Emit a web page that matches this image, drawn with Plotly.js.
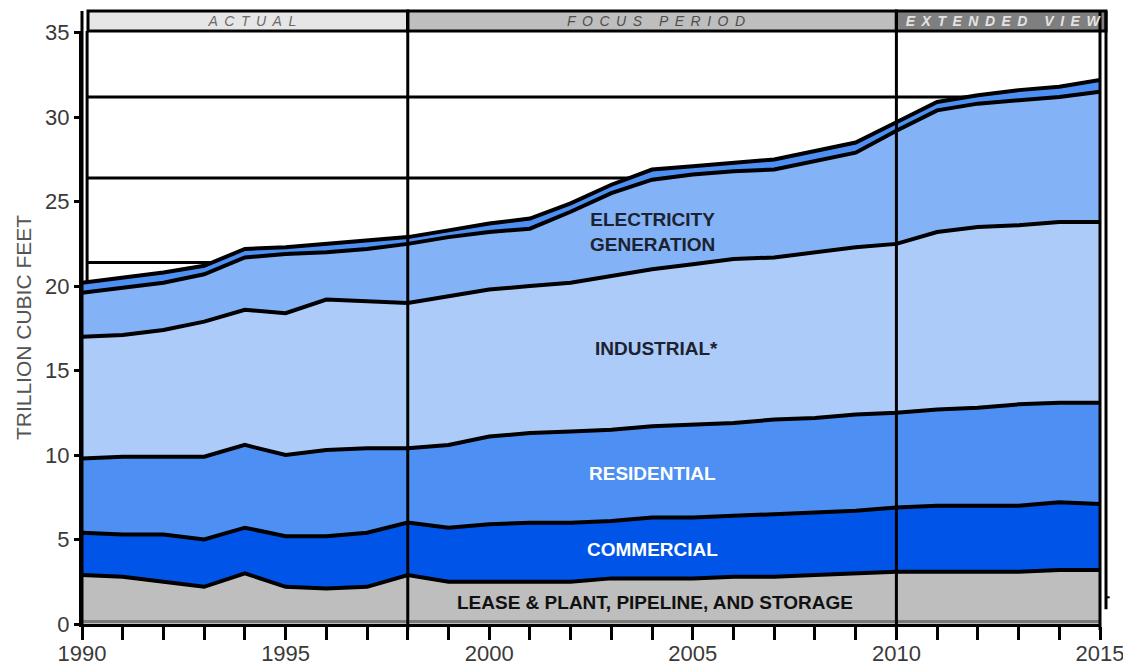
<!DOCTYPE html>
<html>
<head>
<meta charset="utf-8">
<script src="https://cdn.plot.ly/plotly-3.0.1.min.js"></script>
<style>
html, body { margin: 0; padding: 0; background: #ffffff; }
#chart { width: 1123px; height: 665px; }
.annotation[data-index="5"] .annotation-text,
.annotation[data-index="6"] .annotation-text,
.annotation[data-index="7"] .annotation-text { letter-spacing: 6.5px; }
</style>
</head>
<body>
<div id="chart"></div>
<script>
// Years
var years = [1990,1991,1992,1993,1994,1995,1996,1997,1998,1999,2000,2001,2002,
             2003,2004,2005,2006,2007,2008,2009,2010,2011,2012,2013,2014,2015];

// Sector consumption, trillion cubic feet (stacked bottom to top)
var leasePlantPipeline = [2.9,2.8,2.5,2.2,3.0,2.2,2.1,2.2,2.9,2.5,2.5,2.5,2.5,
                          2.7,2.7,2.7,2.8,2.8,2.9,3.0,3.1,3.1,3.1,3.1,3.2,3.2];
var commercial  = [2.5,2.5,2.8,2.8,2.7,3.0,3.1,3.2,3.1,3.2,3.4,3.5,3.5,
                   3.4,3.6,3.6,3.6,3.7,3.7,3.7,3.8,3.9,3.9,3.9,4.0,3.9];
var residential = [4.4,4.6,4.6,4.9,4.9,4.8,5.1,5.0,4.4,4.9,5.2,5.3,5.4,
                   5.4,5.4,5.5,5.5,5.6,5.6,5.7,5.6,5.7,5.8,6.0,5.9,6.0];
var industrial  = [7.2,7.2,7.5,8.0,8.0,8.4,8.9,8.7,8.6,8.8,8.7,8.7,8.8,
                   9.1,9.3,9.5,9.7,9.6,9.8,9.9,10.0,10.5,10.7,10.6,10.7,10.7];
var electricity = [2.6,2.8,2.8,2.8,3.1,3.5,2.8,3.1,3.5,3.5,3.4,3.4,4.2,
                   4.9,5.3,5.3,5.2,5.2,5.4,5.6,6.7,7.2,7.3,7.4,7.4,7.7];
var other       = [0.6,0.6,0.6,0.5,0.5,0.4,0.5,0.5,0.4,0.4,0.5,0.6,0.5,
                   0.5,0.6,0.5,0.5,0.6,0.6,0.6,0.5,0.5,0.5,0.6,0.6,0.7];

var seriesNames = ['Lease & Plant, Pipeline, and Storage','Commercial','Residential',
                   'Industrial','Electricity Generation','Other'];
var seriesData = [leasePlantPipeline, commercial, residential, industrial, electricity, other];
var fillColors = ['#bebebe','#0055e8','#4d8ff2','#adcbf9','#83b2f6','#4d8ff2'];

// Tick labels
var xTickVals = [1990,1995,2000,2005,2010,2015];
var xTickText = ['1990','1995','2000','2005','2010','2015'];
var yTickVals = [0,5,10,15,20,25,30,35];

// Period bands
var periodLabels = ['ACTUAL','FOCUS PERIOD','EXTENDED VIEW'];

var traces = seriesData.map(function(vals, i) {
  return {
    x: years, y: vals, name: seriesNames[i],
    type: 'scatter', mode: 'lines', stackgroup: 'gas',
    line: {color: '#000000', width: 4, shape: 'linear'},
    fillcolor: fillColors[i],
    hoverinfo: 'skip'
  };
});

var FONT = 'Liberation Sans, Arial, sans-serif';
var hdrTop = 1.0337;

var shapes = [
  // background frame lines (behind data)
  {type:'line', xref:'paper', yref:'y', x0:0.005, x1:1, y0:21.4, y1:21.4, layer:'below', line:{color:'#000', width:3}},
  {type:'line', xref:'paper', yref:'y', x0:0.005, x1:1, y0:26.4, y1:26.4, layer:'below', line:{color:'#000', width:3}},
  {type:'line', xref:'paper', yref:'y', x0:0.005, x1:1, y0:31.2, y1:31.2, layer:'below', line:{color:'#000', width:3}},
  {type:'line', xref:'paper', yref:'paper', x0:0.005, x1:0.005, y0:0, y1:1, layer:'below', line:{color:'#000', width:3}},
  // dark base line of the gray area
  {type:'line', xref:'paper', yref:'y', x0:0, x1:1, y0:0.15, y1:0.15, layer:'above', line:{color:'#7a7a7a', width:3}},
  // header bands
  {type:'rect', xref:'paper', yref:'paper', x0:0.0059, x1:0.32, y0:1, y1:hdrTop, fillcolor:'#e6e6e6', line:{color:'#000', width:3}},
  {type:'rect', xref:'paper', yref:'paper', x0:0.32, x1:0.8, y0:1, y1:hdrTop, fillcolor:'#bebebe', line:{color:'#000', width:3}},
  {type:'rect', xref:'paper', yref:'paper', x0:0.8, x1:1.0059, y0:1, y1:hdrTop, fillcolor:'#7f7f7f', line:{color:'#000', width:3}},
  // period dividers (above data)
  {type:'line', xref:'paper', yref:'paper', x0:0.32, x1:0.32, y0:-0.01, y1:hdrTop, line:{color:'#000', width:3}},
  {type:'line', xref:'paper', yref:'paper', x0:0.8, x1:0.8, y0:-0.01, y1:hdrTop, line:{color:'#000', width:3}},
  {type:'line', xref:'paper', yref:'paper', x0:1, x1:1, y0:-0.01, y1:hdrTop, line:{color:'#000', width:3}},
  {type:'line', xref:'paper', yref:'paper', x0:1.0059, x1:1.0059, y0:0.025, y1:hdrTop, line:{color:'#000', width:3}},
  {type:'line', xref:'paper', yref:'paper', x0:1.0059, x1:1.0095, y0:0.045, y1:0.045, line:{color:'#000', width:2}},
  // left axis extension into header
  {type:'line', xref:'paper', yref:'paper', x0:0, x1:0, y0:0, y1:hdrTop, line:{color:'#000', width:3}}
];

var annotations = [
  {x:2004.0, y:23.2, xref:'x', yref:'y', text:'ELECTRICITY<br>GENERATION', showarrow:false,
   font:{family:FONT, size:19, weight:'bold', color:'#1c2230'}},
  {x:2004.1, y:16.3, xref:'x', yref:'y', text:'INDUSTRIAL*', showarrow:false,
   font:{family:FONT, size:19, weight:'bold', color:'#1c2230'}},
  {x:2004.0, y:8.9, xref:'x', yref:'y', text:'RESIDENTIAL', showarrow:false,
   font:{family:FONT, size:19, weight:'bold', color:'#ffffff'}},
  {x:2004.0, y:4.4, xref:'x', yref:'y', text:'COMMERCIAL', showarrow:false,
   font:{family:FONT, size:19, weight:'bold', color:'#ffffff'}},
  {x:2004.07, y:1.3, xref:'x', yref:'y', text:'LEASE & PLANT, PIPELINE, AND STORAGE', showarrow:false,
   font:{family:FONT, size:19, weight:'bold', color:'#111111'}},
  {x:0.167, y:1.017, xref:'paper', yref:'paper', xanchor:'center', yanchor:'middle', xshift:3,
   text:periodLabels[0], showarrow:false,
   font:{family:FONT, size:14, style:'italic', color:'#6a6a6a'}},
  {x:0.564, y:1.017, xref:'paper', yref:'paper', xanchor:'center', yanchor:'middle', xshift:3,
   text:periodLabels[1], showarrow:false,
   font:{family:FONT, size:14, style:'italic', color:'#4e4e4e'}},
  {x:0.906, y:1.017, xref:'paper', yref:'paper', xanchor:'center', yanchor:'middle', xshift:3,
   text:periodLabels[2], showarrow:false,
   font:{family:FONT, size:14, style:'italic', weight:'bold', color:'#e4e4e4'}}
];

var layout = {
  width: 1123, height: 665,
  margin: {l:82, r:23, t:31, b:41, pad:0},
  paper_bgcolor: '#ffffff', plot_bgcolor: '#ffffff',
  showlegend: false, hovermode: false,
  font: {family: FONT},
  xaxis: {
    range: [1990, 2015], tickvals: xTickVals, ticktext: xTickText,
    showgrid: false, zeroline: false,
    showline: true, linecolor: '#000', linewidth: 3,
    ticks: 'outside', ticklen: 13, tickwidth: 3, tickcolor: '#000',
    ticklabelstandoff: -5, ticklabeloverflow: 'allow',
    minor: {dtick: 1, tick0: 1990, ticks: 'outside', ticklen: 13, tickwidth: 3, tickcolor: '#000', showgrid: false},
    tickfont: {family: FONT, size: 22, color: '#3a3a3a'},
    fixedrange: true
  },
  yaxis: {
    range: [0, 35.1], tickvals: yTickVals,
    showgrid: false, zeroline: false,
    showline: true, linecolor: '#000', linewidth: 3,
    ticks: 'outside', ticklen: 5, tickwidth: 3, tickcolor: '#000',
    tickfont: {family: FONT, size: 22, color: '#3a3a3a'},
    title: {text: 'TRILLION CUBIC FEET', font: {family: FONT, size: 21, color: '#555555'}, standoff: 8},
    fixedrange: true
  },
  shapes: shapes,
  annotations: annotations
};

Plotly.newPlot('chart', traces, layout, {displayModeBar: false, staticPlot: true});
</script>
</body>
</html>
